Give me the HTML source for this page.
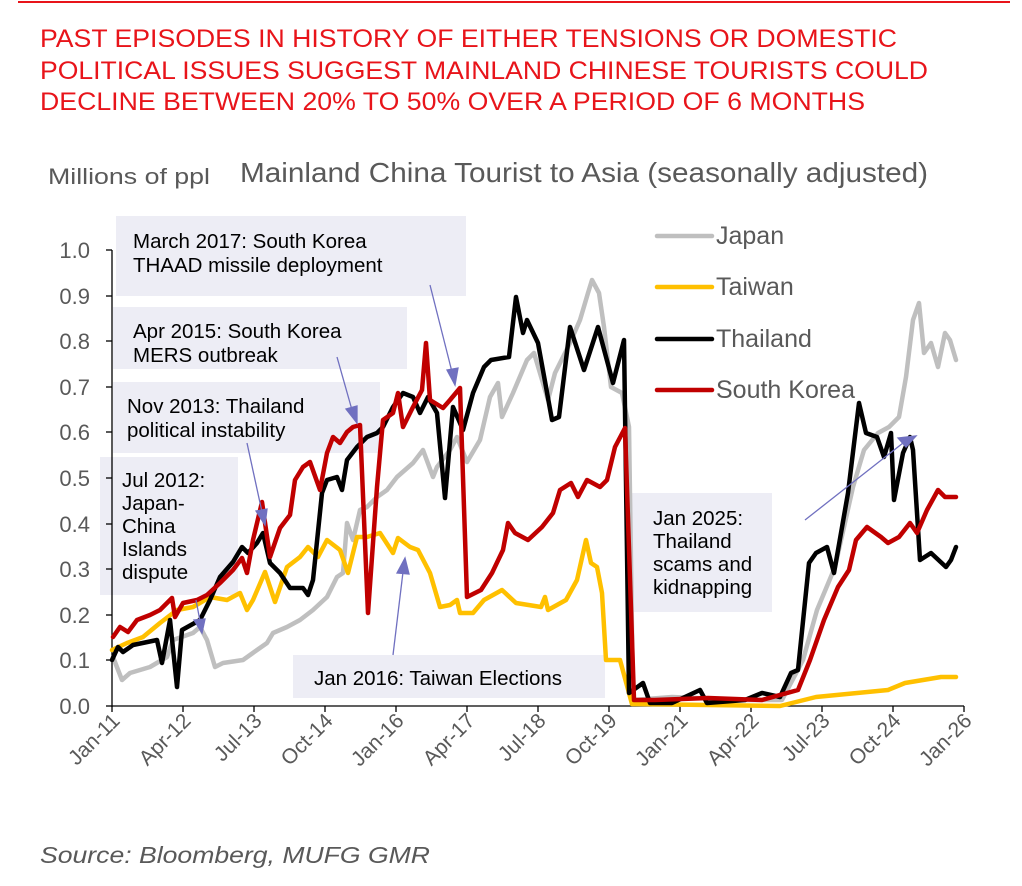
<!DOCTYPE html>
<html><head><meta charset="utf-8"><style>
body{margin:0;background:#fff;width:1022px;height:881px;overflow:hidden;font-family:"Liberation Sans",Arial,sans-serif}
</style></head><body>
<svg width="1022" height="881" viewBox="0 0 1022 881" xmlns="http://www.w3.org/2000/svg" font-family="Liberation Sans, Arial, sans-serif">
<line x1="18" y1="2" x2="1010" y2="2" stroke="#e8141a" stroke-width="2"/>
<g fill="#e8141a" font-size="25">
<text x="40" y="47" textLength="857" lengthAdjust="spacingAndGlyphs">PAST EPISODES IN HISTORY OF EITHER TENSIONS OR DOMESTIC</text>
<text x="40" y="79" textLength="888" lengthAdjust="spacingAndGlyphs">POLITICAL ISSUES SUGGEST MAINLAND CHINESE TOURISTS COULD</text>
<text x="40" y="110" textLength="825" lengthAdjust="spacingAndGlyphs">DECLINE BETWEEN 20% TO 50% OVER A PERIOD OF 6 MONTHS</text>
</g>
<text x="48" y="184" font-size="22" fill="#595959" textLength="162" lengthAdjust="spacingAndGlyphs">Millions of ppl</text>
<text x="240" y="182" font-size="28" fill="#595959" textLength="688" lengthAdjust="spacingAndGlyphs">Mainland China Tourist to Asia (seasonally adjusted)</text>
<text x="40" y="863" font-size="23" fill="#595959" font-style="italic" textLength="390" lengthAdjust="spacingAndGlyphs">Source: Bloomberg, MUFG GMR</text>

<g fill="#ededf5">
<rect x="116" y="216" width="350" height="80"/>
<rect x="113" y="307" width="294" height="62"/>
<rect x="113" y="382" width="267" height="71"/>
<rect x="100" y="457" width="138" height="138"/>
<rect x="293" y="655" width="312" height="43"/>
<rect x="632" y="493" width="140" height="119"/>
</g>
<g font-size="20.5" fill="#000">
<text x="133" y="248">March 2017: South Korea</text>
<text x="133" y="272">THAAD missile deployment</text>
<text x="133" y="338">Apr 2015: South Korea</text>
<text x="133" y="362">MERS outbreak</text>
<text x="127" y="413">Nov 2013: Thailand</text>
<text x="127" y="437">political instability</text>
<text x="122" y="487">Jul 2012:</text>
<text x="122" y="510">Japan-</text>
<text x="122" y="533">China</text>
<text x="122" y="556">Islands</text>
<text x="122" y="579">dispute</text>
<text x="314" y="685">Jan 2016: Taiwan Elections</text>
<text x="653" y="525">Jan 2025:</text>
<text x="653" y="548">Thailand</text>
<text x="653" y="571">scams and</text>
<text x="653" y="594">kidnapping</text>
</g>

<g stroke="#000" stroke-width="1.3">
<line x1="112" y1="250" x2="112" y2="707"/>
<line x1="112" y1="706" x2="964" y2="706"/>
<line x1="106" y1="250" x2="112" y2="250"/><line x1="106" y1="296" x2="112" y2="296"/>
<line x1="106" y1="341" x2="112" y2="341"/><line x1="106" y1="387" x2="112" y2="387"/>
<line x1="106" y1="432" x2="112" y2="432"/><line x1="106" y1="478" x2="112" y2="478"/>
<line x1="106" y1="524" x2="112" y2="524"/><line x1="106" y1="569" x2="112" y2="569"/>
<line x1="106" y1="615" x2="112" y2="615"/><line x1="106" y1="660" x2="112" y2="660"/>
<line x1="106" y1="706" x2="112" y2="706"/>
<line x1="112" y1="706" x2="112" y2="712"/><line x1="183" y1="706" x2="183" y2="712"/>
<line x1="254" y1="706" x2="254" y2="712"/><line x1="325" y1="706" x2="325" y2="712"/>
<line x1="396" y1="706" x2="396" y2="712"/><line x1="467" y1="706" x2="467" y2="712"/>
<line x1="538" y1="706" x2="538" y2="712"/><line x1="609" y1="706" x2="609" y2="712"/>
<line x1="680" y1="706" x2="680" y2="712"/><line x1="751" y1="706" x2="751" y2="712"/>
<line x1="822" y1="706" x2="822" y2="712"/><line x1="893" y1="706" x2="893" y2="712"/>
<line x1="964" y1="706" x2="964" y2="712"/>
</g>
<g font-size="22" fill="#595959" text-anchor="end">
<text x="90" y="258">1.0</text><text x="90" y="304">0.9</text><text x="90" y="349">0.8</text>
<text x="90" y="395">0.7</text><text x="90" y="440">0.6</text><text x="90" y="486">0.5</text>
<text x="90" y="532">0.4</text><text x="90" y="577">0.3</text><text x="90" y="623">0.2</text>
<text x="90" y="668">0.1</text><text x="90" y="714">0.0</text>
</g>
<g font-size="21" fill="#595959" text-anchor="end">
<text transform="translate(121,722) rotate(-45)">Jan-11</text>
<text transform="translate(192,722) rotate(-45)">Apr-12</text>
<text transform="translate(263,722) rotate(-45)">Jul-13</text>
<text transform="translate(334,722) rotate(-45)">Oct-14</text>
<text transform="translate(405,722) rotate(-45)">Jan-16</text>
<text transform="translate(476,722) rotate(-45)">Apr-17</text>
<text transform="translate(547,722) rotate(-45)">Jul-18</text>
<text transform="translate(618,722) rotate(-45)">Oct-19</text>
<text transform="translate(689,722) rotate(-45)">Jan-21</text>
<text transform="translate(760,722) rotate(-45)">Apr-22</text>
<text transform="translate(831,722) rotate(-45)">Jul-23</text>
<text transform="translate(902,722) rotate(-45)">Oct-24</text>
<text transform="translate(973,722) rotate(-45)">Jan-26</text>
</g>

<g fill="none" stroke-width="4.5" stroke-linejoin="round" stroke-linecap="round">
<polyline stroke="#bfbfbf" points="113,657 122,680 130,673 150,667 167,657 173,640 193,633 200,627 207,640 215,667 223,663 243,660 257,650 267,643 273,633 287,627 300,620 313,610 327,597 337,577 343,573 347,523 353,540 360,510 367,507 377,497 387,490 397,477 413,463 423,450 433,477 437,467 450,450 457,437 467,462 480,440 490,397 498,383 502,417 513,393 527,360 534,353 548,400 555,373 570,343 580,320 588,293 592,280 599,293 604,327 611,387 622,393 629,427 633,700 672,697 745,700 782,700 803,660 817,610 835,567 853,487 864,450 878,433 889,427 899,417 906,377 913,320 919,303 924,353 931,343 938,367 945,333 950,340 956,360"/>
<polyline stroke="#ffc000" points="112,650 127,643 143,637 160,623 177,610 193,607 210,597 227,600 240,593 247,610 253,600 265,572 275,602 287,567 300,557 308,547 318,557 327,540 340,550 348,573 357,537 367,537 380,533 393,553 398,538 410,547 418,550 430,573 440,607 450,605 457,600 460,613 473,613 484,600 502,590 516,603 541,607 545,597 548,610 566,600 577,580 586,540 591,563 597,567 602,593 606,660 620,660 632,704 780,706 816,697 888,690 905,683 923,680 941,677 956,677"/>
<polyline stroke="#000" points="112,660 118,647 123,652 133,645 157,640 162,663 170,620 177,687 182,630 200,620 210,600 220,577 233,562 242,547 248,553 257,543 263,533 270,563 280,573 290,588 303,588 308,595 313,580 322,493 327,480 337,477 342,490 347,460 357,447 367,437 377,433 383,427 393,407 403,393 413,397 420,413 428,397 437,413 445,498 453,407 463,430 473,393 484,367 491,360 509,357 516,297 523,333 527,320 538,343 552,420 559,417 570,327 584,370 598,327 613,383 624,340 629,693 643,683 650,703 672,703 700,690 707,703 745,700 762,693 780,697 791,673 798,670 809,563 816,553 827,547 834,573 848,493 859,403 866,433 877,437 884,457 891,433 894,500 903,453 910,437 913,450 920,560 931,553 946,567 951,560 956,547"/>
<polyline stroke="#c00000" points="113,637 120,627 128,632 137,620 150,615 160,610 172,598 175,617 183,603 197,600 207,595 220,583 233,570 242,558 247,573 253,540 262,502 270,557 280,528 290,515 295,480 303,467 310,462 320,490 327,453 333,437 340,443 347,432 353,427 360,425 368,613 377,487 383,420 393,413 398,393 403,427 413,407 422,390 426,343 430,400 443,408 450,400 460,388 467,597 481,590 492,573 503,550 508,523 515,533 528,540 542,527 553,513 560,490 571,483 578,497 587,480 600,487 607,480 615,447 625,428 634,700 655,700 708,698 762,700 798,690 810,660 824,620 838,587 849,570 856,540 867,527 881,537 888,543 899,537 910,523 917,533 927,510 938,490 945,497 956,497"/>
</g>

<g stroke="#7070c0" stroke-width="1.3" fill="#7070c0">
<line x1="430" y1="285" x2="452" y2="372"/><polygon points="447,370 458,368 455,385"/>
<line x1="337" y1="357" x2="352" y2="410"/><polygon points="346,409 357,406 357,423"/>
<line x1="247" y1="443" x2="262" y2="512"/><polygon points="256,511 267,509 265,525"/>
<line x1="196" y1="600" x2="200" y2="621"/><polygon points="194,620 205,619 202,633"/>
<line x1="393" y1="655" x2="403" y2="572"/><polygon points="397,573 409,574 405,558"/>
<line x1="805" y1="520" x2="903" y2="443"/><polygon points="898,438 906,447 916,436"/>
</g>

<g stroke-width="4.5" stroke-linecap="round">
<line x1="657" y1="236" x2="712" y2="236" stroke="#bfbfbf"/>
<line x1="657" y1="287" x2="712" y2="287" stroke="#ffc000"/>
<line x1="657" y1="339" x2="712" y2="339" stroke="#000"/>
<line x1="657" y1="390" x2="712" y2="390" stroke="#c00000"/>
</g>
<g font-size="25" fill="#595959">
<text x="716" y="244">Japan</text>
<text x="716" y="295">Taiwan</text>
<text x="716" y="347">Thailand</text>
<text x="716" y="398">South Korea</text>
</g>
</svg>
</body></html>
